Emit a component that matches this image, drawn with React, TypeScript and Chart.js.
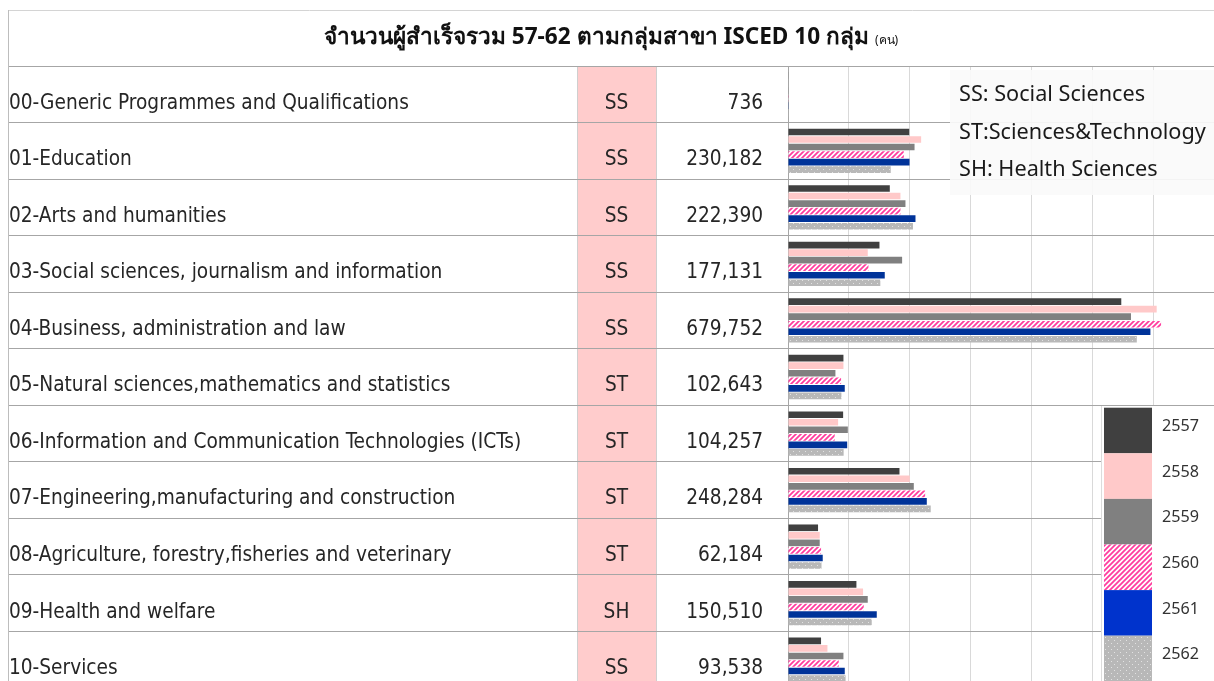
import React, { useEffect, useRef } from 'react';
import { Chart, registerables } from 'chart.js';

Chart.register(...registerables);

// ---------- data ----------
const categories = [
  '00-Generic Programmes and Qualifications',
  '01-Education',
  '02-Arts and humanities',
  '03-Social sciences, journalism and information',
  '04-Business, administration and law',
  '05-Natural sciences,mathematics and statistics',
  '06-Information and Communication Technologies (ICTs)',
  '07-Engineering,manufacturing and construction',
  '08-Agriculture, forestry,fisheries and veterinary',
  '09-Health and welfare',
  '10-Services',
];
const groups = ['SS', 'SS', 'SS', 'SS', 'SS', 'ST', 'ST', 'ST', 'ST', 'SH', 'SS'];
const totals = [736, 230182, 222390, 177131, 679752, 102643, 104257, 248284, 62184, 150510, 93538];
const years = ['2557', '2558', '2559', '2560', '2561', '2562'];
const y2557 = [180, 38700, 32500, 29200, 106400, 17700, 17600, 35590, 9590, 21840, 10550];
const y2558 = [160, 42500, 35900, 25460, 117700, 17700, 16000, 38880, 10130, 23960, 12590];
const y2559 = [120, 40400, 37500, 36430, 109500, 15140, 19100, 40160, 10130, 25460, 17700];
const y2560 = [100, 36980, 35900, 25680, 119100, 16940, 14900, 43780, 10550, 24180, 16200];
const y2561 = [96, 38800, 40700, 30890, 115700, 18120, 18900, 44310, 11090, 28340, 18120];
const y2562 = [80, 32802, 39890, 29471, 111352, 17043, 17757, 45564, 10694, 26730, 18378];
const xMax = 136000;
const xStep = 20000;
const titleText = 'จำนวนผู้สำเร็จรวม 57-62 ตามกลุ่มสาขา ISCED 10 กลุ่ม';
const titleUnit = '(คน)';
const groupLegend = ['SS: Social Sciences', 'ST:Sciences&Technology', 'SH: Health Sciences'];

// ---------- styles ----------
const LABEL_FAMILY = "'Liberation Sans Narrow', 'DejaVu Sans Condensed', 'Noto Sans', sans-serif";
const LEGEND_FAMILY = "'Noto Sans', 'DejaVu Sans', sans-serif";
const TITLE_FAMILY = "'Noto Sans', 'DejaVu Sans', sans-serif";
const TEXT_COLOR = '#262626';
const TEXT_OFFSET = 9;

function fitSize(text: string, family: string, weight: string, target: number) {
  const c = document.createElement('canvas').getContext('2d')!;
  c.font = `${weight} 100px ${family}`;
  const w = c.measureText(text).width || 1;
  return (100 * target) / w;
}

function stripePattern() {
  const s = 5;
  const c = document.createElement('canvas');
  c.width = s;
  c.height = s;
  const g = c.getContext('2d')!;
  g.fillStyle = '#ffffff';
  g.fillRect(0, 0, s, s);
  g.strokeStyle = '#ff3d9e';
  g.lineWidth = 1.8;
  g.beginPath();
  g.moveTo(0, s);
  g.lineTo(s, 0);
  g.moveTo(-s, s);
  g.lineTo(s, -s);
  g.moveTo(0, 2 * s);
  g.lineTo(2 * s, 0);
  g.stroke();
  return g.createPattern(c, 'repeat')!;
}

function dotPattern() {
  const s = 6;
  const c = document.createElement('canvas');
  c.width = s;
  c.height = s;
  const g = c.getContext('2d')!;
  g.fillStyle = '#b8b8b8';
  g.fillRect(0, 0, s, s);
  g.fillStyle = '#e2e2e2';
  g.fillRect(1, 1, 1, 1);
  g.fillRect(4, 4, 1, 1);
  return g.createPattern(c, 'repeat')!;
}

export default function App() {
  const ref = useRef<HTMLCanvasElement>(null);

  useEffect(() => {
    const canvas = ref.current!;
    const labelSize = fitSize(categories[0], LABEL_FAMILY, '400', 400);
    const legendSize = fitSize(groupLegend[1], LEGEND_FAMILY, '400', 247);
    const yearSize = fitSize(years[0], LEGEND_FAMILY, '400', 37);
    const titleSize = fitSize(titleText, TITLE_FAMILY, '700', 543);

    const stripes = stripePattern();
    const dots = dotPattern();
    const fills: any[] = ['#404040', '#ffc9c9', '#808080', stripes, '#003399', dots];
    const legendFills: any[] = ['#404040', '#ffc9c9', '#808080', stripes, '#0033cc', dots];
    const series = [y2557, y2558, y2559, y2560, y2561, y2562];

    const tablePlugin = {
      id: 'tablePlugin',
      beforeDraw(chart: any) {
        const { ctx, chartArea } = chart;
        ctx.save();
        ctx.fillStyle = '#ffffff';
        ctx.fillRect(0, 0, chart.width, chart.height);
        // group column
        ctx.fillStyle = '#ffcccc';
        ctx.fillRect(577, chartArea.top, 79, chartArea.bottom - chartArea.top);
        ctx.strokeStyle = '#cfcfcf';
        ctx.lineWidth = 1;
        ctx.beginPath();
        ctx.moveTo(577.5, chartArea.top);
        ctx.lineTo(577.5, chartArea.bottom);
        ctx.moveTo(656.5, chartArea.top);
        ctx.lineTo(656.5, chartArea.bottom);
        ctx.stroke();
        ctx.restore();
      },
      afterDraw(chart: any) {
        const { ctx } = chart;
        const yScale = chart.scales.y;
        ctx.save();
        // outer borders
        ctx.strokeStyle = '#d4d4d4';
        ctx.lineWidth = 1;
        ctx.beginPath();
        ctx.moveTo(8, 10.5);
        ctx.lineTo(chart.width, 10.5);
        ctx.stroke();
        ctx.strokeStyle = '#bdbdbd';
        ctx.beginPath();
        ctx.moveTo(8.5, 10);
        ctx.lineTo(8.5, chart.height);
        ctx.stroke();

        // title
        ctx.textBaseline = 'middle';
        ctx.fillStyle = '#111111';
        ctx.font = `700 ${titleSize}px ${TITLE_FAMILY}`;
        const tw = ctx.measureText(titleText).width;
        ctx.font = `400 12px ${TITLE_FAMILY}`;
        const uw = ctx.measureText(titleUnit).width;
        const total = tw + 6 + uw;
        const tx = 611 - total / 2;
        ctx.font = `700 ${titleSize}px ${TITLE_FAMILY}`;
        ctx.textAlign = 'left';
        ctx.fillText(titleText, tx, 38);
        ctx.font = `400 12px ${TITLE_FAMILY}`;
        ctx.fillText(titleUnit, tx + tw + 6, 41);

        // group codes and totals
        ctx.fillStyle = TEXT_COLOR;
        ctx.font = `400 ${labelSize}px ${LABEL_FAMILY}`;
        categories.forEach((_, i) => {
          const y = yScale.getPixelForValue(i) + TEXT_OFFSET;
          ctx.textAlign = 'center';
          ctx.fillText(groups[i], 616.5, y);
          ctx.textAlign = 'right';
          ctx.fillText(totals[i].toLocaleString('en-US'), 763, y);
        });

        // group legend
        ctx.fillStyle = 'rgba(250,250,250,0.92)';
        ctx.fillRect(950, 70, chart.width - 950, 125);
        ctx.fillStyle = '#1a1a1a';
        ctx.textAlign = 'left';
        ctx.font = `400 ${legendSize}px ${LEGEND_FAMILY}`;
        groupLegend.forEach((t, i) => ctx.fillText(t, 959, 95 + i * 37.5));

        // year legend
        const top = 406;
        ctx.fillStyle = '#ffffff';
        ctx.fillRect(1101, top, chart.width - 1101, chart.height - top);
        ctx.strokeStyle = '#dcdcdc';
        ctx.beginPath();
        ctx.moveTo(1101.5, top);
        ctx.lineTo(1101.5, chart.height);
        ctx.stroke();
        const boxH = 45.6;
        chart.data.datasets.forEach((ds: any, i: number) => {
          const by = 407.7 + i * boxH;
          ctx.fillStyle = legendFills[i];
          ctx.fillRect(1104, by, 48, boxH);
          ctx.fillStyle = '#333333';
          ctx.font = `400 ${yearSize}px ${LEGEND_FAMILY}`;
          ctx.fillText(ds.label, 1162, by + boxH / 2 - 4);
        });
        ctx.restore();
      },
    };

    const chart = new Chart(canvas, {
      type: 'bar',
      data: {
        labels: categories,
        datasets: years.map((yr, i) => ({
          label: yr,
          data: series[i],
          backgroundColor: fills[i],
          borderWidth: 0,
          categoryPercentage: 0.8,
          barPercentage: 0.88,
        })),
      },
      options: {
        indexAxis: 'y',
        responsive: false,
        animation: false,
        layout: { padding: { left: 9, top: 66, right: 0, bottom: 0 } },
        plugins: {
          legend: { display: false },
          title: { display: false },
          tooltip: { enabled: false },
        },
        scales: {
          x: {
            min: 0,
            max: xMax,
            ticks: { display: false, stepSize: xStep },
            grid: { color: '#d9d9d9', drawTicks: false },
            border: { display: false },
            afterFit: (s: any) => {
              s.height = 0;
              s.paddingLeft = 0;
              s.paddingRight = 0;
              s.paddingTop = 0;
              s.paddingBottom = 0;
            },
          },
          y: {
            ticks: {
              crossAlign: 'far',
              labelOffset: TEXT_OFFSET,
              autoSkip: false,
              padding: 0,
              color: TEXT_COLOR,
              font: { family: LABEL_FAMILY, size: labelSize, weight: 'normal' },
            },
            grid: { color: '#a6a6a6', tickLength: 780, offset: true },
            border: { display: true, color: '#a6a6a6' },
            afterFit: (s: any) => {
              s.width = 779;
              s.paddingTop = 0;
              s.paddingBottom = 0;
              s.paddingLeft = 0;
              s.paddingRight = 0;
            },
          },
        },
      },
      plugins: [tablePlugin],
    } as any);

    return () => chart.destroy();
  }, []);

  return (
    <div
      style={{
        position: 'fixed',
        left: 0,
        top: 0,
        width: 1214,
        height: 681,
        overflow: 'hidden',
        background: '#ffffff',
      }}
    >
      <canvas ref={ref} width={1214} height={688} style={{ display: 'block' }} />
    </div>
  );
}
